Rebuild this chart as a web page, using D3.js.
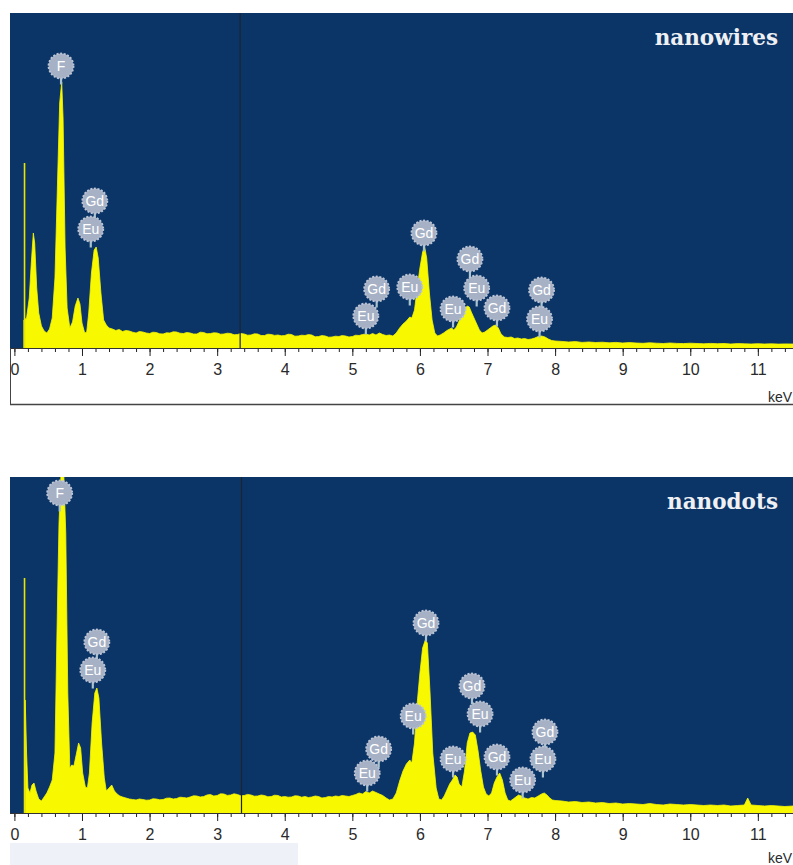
<!DOCTYPE html>
<html>
<head>
<meta charset="utf-8">
<script src="https://cdn.jsdelivr.net/npm/d3@7"></script>
<style>
  html, body { margin: 0; padding: 0; background: #ffffff; }
  svg { display: block; }
</style>
</head>
<body>
<svg id="chart" width="793" height="865"></svg>
<script>
// ---------------- DATA ----------------
const panelTitles = ["nanowires", "nanodots"];
const majorTicks = [0, 1, 2, 3, 4, 5, 6, 7, 8, 9, 10, 11];
const minorTicks = d3.range(0, 11.6, 0.2);
const axisUnit = "keV";

// zero-energy strobe line [keV, counts]
const nanowiresZero = [0.15, 1850];
const nanodotsZero = [0.15, 2350];
// cursor marker (keV)
const nanowiresCursor = 3.34;
const nanodotsCursor = 3.36;

// spectrum [keV, counts]
const nanowiresSpectrum = [
  [0.14,280],[0.18,300],[0.22,500],[0.25,850],[0.28,1150],[0.30,1050],[0.33,600],[0.36,350],
  [0.40,220],[0.44,170],[0.48,150],[0.52,190],[0.56,300],[0.60,700],[0.64,1700],[0.67,2450],
  [0.70,2660],[0.72,2300],[0.75,1000],[0.78,400],[0.82,200],[0.86,260],[0.90,420],[0.94,500],
  [0.97,440],[1.00,250],[1.04,150],[1.07,160],[1.10,350],[1.14,750],[1.18,980],[1.21,1010],
  [1.24,900],[1.28,550],[1.32,280],[1.36,230],[1.40,200],[1.45,190],[1.50,175],[1.55,185],
  [1.60,165],[1.65,175],[1.70,170],[1.75,158],[1.80,150],[1.85,165],[1.90,160],[1.95,150],
  [2.00,145],[2.05,158],[2.10,155],[2.15,142],[2.20,140],[2.25,152],[2.30,150],[2.35,162],
  [2.40,160],[2.45,148],[2.50,145],[2.55,155],[2.60,150],[2.65,140],[2.70,140],[2.75,158],
  [2.80,155],[2.85,142],[2.90,145],[2.95,152],[3.00,150],[3.05,138],[3.10,140],[3.15,148],
  [3.20,145],[3.25,132],[3.30,135],[3.35,145],[3.40,140],[3.45,128],[3.50,130],[3.55,142],
  [3.60,140],[3.65,125],[3.70,125],[3.75,138],[3.80,135],[3.85,126],[3.90,130],[3.95,122],
  [4.00,125],[4.05,138],[4.10,135],[4.15,118],[4.20,120],[4.25,128],[4.30,125],[4.35,134],
  [4.40,130],[4.45,112],[4.50,115],[4.55,124],[4.60,120],[4.65,108],[4.70,110],[4.75,118],
  [4.80,115],[4.85,124],[4.90,120],[4.95,110],[5.00,115],[5.05,128],[5.10,125],[5.15,135],
  [5.20,140],[5.25,130],[5.30,145],[5.35,130],[5.40,150],[5.45,135],[5.50,125],[5.55,130],
  [5.60,120],[5.65,150],[5.70,200],[5.75,240],[5.80,270],[5.85,310],[5.88,300],[5.92,380],
  [5.96,600],[6.00,800],[6.04,960],[6.07,1010],[6.10,900],[6.14,550],[6.18,280],[6.22,150],
  [6.26,120],[6.30,130],[6.35,150],[6.40,175],[6.44,190],[6.47,200],[6.50,180],[6.54,210],
  [6.58,270],[6.62,330],[6.66,390],[6.70,420],[6.73,410],[6.76,360],[6.80,300],[6.84,240],
  [6.88,180],[6.92,150],[6.96,160],[7.00,180],[7.04,200],[7.08,220],[7.12,230],[7.16,200],
  [7.20,140],[7.25,110],[7.30,105],[7.35,110],[7.40,95],[7.45,100],[7.50,90],[7.55,95],
  [7.60,85],[7.65,90],[7.70,100],[7.75,115],[7.80,120],[7.85,110],[7.90,90],[7.95,75],
  [8.00,70],[8.10,66],[8.20,60],[8.30,64],[8.40,56],[8.50,60],[8.60,55],[8.70,58],
  [8.80,52],[8.90,56],[9.00,50],[9.10,54],[9.20,50],[9.30,47],[9.40,52],[9.50,48],
  [9.60,45],[9.70,50],[9.80,46],[9.90,44],[10.00,48],[10.10,45],[10.20,42],[10.30,46],
  [10.40,43],[10.50,45],[10.60,40],[10.70,44],[10.80,42],[10.90,40],[11.00,43],[11.10,40],
  [11.20,42],[11.30,39],[11.40,41],[11.52,40]
];

const nanodotsSpectrum = [
  [0.16,1130],[0.18,600],[0.20,250],[0.23,200],[0.26,280],[0.29,300],[0.32,220],[0.36,140],
  [0.40,120],[0.44,160],[0.48,200],[0.52,260],[0.56,330],[0.60,600],[0.63,1800],[0.66,2900],
  [0.69,3400],[0.73,3400],[0.76,2800],[0.79,1200],[0.82,450],[0.85,480],[0.88,470],[0.92,600],
  [0.95,700],[0.98,650],[1.01,400],[1.05,260],[1.08,250],[1.11,400],[1.15,900],[1.19,1200],
  [1.22,1250],[1.25,1150],[1.29,700],[1.33,350],[1.36,220],[1.40,250],[1.44,280],[1.48,220],
  [1.52,190],[1.56,170],[1.60,160],[1.65,150],[1.70,140],[1.75,135],[1.80,130],[1.85,140],
  [1.90,135],[1.95,128],[2.00,130],[2.05,142],[2.10,140],[2.15,132],[2.20,135],[2.25,148],
  [2.30,150],[2.35,140],[2.40,145],[2.45,158],[2.50,155],[2.55,150],[2.60,160],[2.65,172],
  [2.70,170],[2.75,160],[2.80,165],[2.85,180],[2.90,185],[2.95,170],[3.00,175],[3.05,192],
  [3.10,190],[3.15,176],[3.20,180],[3.25,192],[3.30,185],[3.35,172],[3.40,175],[3.45,186],
  [3.50,180],[3.55,168],[3.60,170],[3.65,180],[3.70,175],[3.75,162],[3.80,165],[3.85,178],
  [3.90,175],[3.95,160],[4.00,165],[4.05,158],[4.10,160],[4.15,172],[4.20,170],[4.25,158],
  [4.30,165],[4.35,155],[4.40,160],[4.45,170],[4.50,165],[4.55,150],[4.60,155],[4.65,165],
  [4.70,160],[4.75,170],[4.80,165],[4.85,175],[4.90,170],[4.95,165],[5.00,175],[5.05,185],
  [5.10,200],[5.15,190],[5.20,215],[5.25,200],[5.30,220],[5.35,205],[5.40,190],[5.45,175],
  [5.50,150],[5.55,130],[5.60,140],[5.65,200],[5.70,320],[5.75,420],[5.80,490],[5.85,530],
  [5.88,500],[5.92,700],[5.96,1100],[6.00,1400],[6.04,1650],[6.08,1730],[6.11,1700],[6.15,1200],
  [6.19,600],[6.24,250],[6.28,140],[6.32,130],[6.36,170],[6.40,230],[6.44,290],[6.48,330],
  [6.52,380],[6.55,360],[6.58,290],[6.62,260],[6.66,420],[6.70,700],[6.74,800],[6.78,810],
  [6.82,780],[6.86,620],[6.90,420],[6.94,260],[6.98,190],[7.02,170],[7.06,200],[7.10,300],
  [7.14,360],[7.18,400],[7.22,330],[7.26,200],[7.30,130],[7.34,120],[7.38,140],[7.42,160],
  [7.46,180],[7.50,170],[7.55,150],[7.60,140],[7.65,155],[7.70,150],[7.75,170],[7.80,190],
  [7.84,200],[7.88,180],[7.92,150],[7.96,130],[8.00,125],[8.10,120],[8.20,110],[8.30,115],
  [8.40,105],[8.50,110],[8.60,100],[8.70,105],[8.80,95],[8.90,100],[9.00,90],[9.10,95],
  [9.20,90],[9.30,85],[9.40,95],[9.50,85],[9.60,80],[9.70,90],[9.80,85],[9.90,80],
  [10.00,85],[10.10,80],[10.20,75],[10.30,80],[10.40,75],[10.50,80],[10.60,70],[10.70,75],
  [10.80,80],[10.85,150],[10.90,80],[11.00,75],[11.10,70],[11.20,75],[11.30,70],[11.40,65],
  [11.52,70]
];

// element badges [element, keV, counts at badge centre]
const nanowiresLabels = [
  ["F",0.69,2820],["Gd",1.19,1470],["Eu",1.13,1190],
  ["Eu",5.20,320],["Gd",5.36,590],["Eu",5.85,610],["Gd",6.06,1150],
  ["Eu",6.49,390],["Gd",6.74,890],["Eu",6.84,600],["Gd",7.14,400],
  ["Gd",7.80,580],["Eu",7.77,290]
];
const nanodotsLabels = [
  ["F",0.67,3200],["Gd",1.22,1710],["Eu",1.16,1430],
  ["Eu",5.22,400],["Gd",5.39,640],["Eu",5.90,970],["Gd",6.09,1900],
  ["Eu",6.49,540],["Gd",6.77,1270],["Eu",6.89,990],["Gd",7.14,560],
  ["Eu",7.52,330],["Gd",7.85,810],["Eu",7.82,540]
];

// ---------------- DRAWING ----------------
const svg = d3.select("#chart");
const W = 793;

const panels = [
  { title: panelTitles[0], spectrum: nanowiresSpectrum, zero: nanowiresZero, cursor: nanowiresCursor,
    labels: nanowiresLabels, top: 13, base: 348, yMax: 3350, axisBottom: 404, boxed: true },
  { title: panelTitles[1], spectrum: nanodotsSpectrum, zero: nanodotsZero, cursor: nanodotsCursor,
    labels: nanodotsLabels, top: 477, base: 813, yMax: 3360, axisBottom: 870, boxed: false }
];

const x = d3.scaleLinear().domain([0, 11.52]).range([14.4, W]);
const left = 10;

panels.forEach((p, i) => {
  const g = svg.append("g");
  const y = d3.scaleLinear().domain([0, p.yMax]).range([p.base, p.top]);

  const clipId = "clip" + i;
  svg.append("clipPath").attr("id", clipId)
    .append("rect").attr("x", left).attr("y", p.top).attr("width", W - left).attr("height", p.base - p.top);
  const axClip = "axclip" + i;
  svg.append("clipPath").attr("id", axClip)
    .append("rect").attr("x", left).attr("y", p.base).attr("width", W - left).attr("height", 100);

  // axis area background
  if (!p.boxed) {
    g.append("rect").attr("x", left).attr("y", 843).attr("width", 288).attr("height", 30)
      .attr("fill", "#eef1f7");
  }

  // plot background
  g.append("rect").attr("x", left).attr("y", p.top).attr("width", W - left).attr("height", p.base - p.top)
    .attr("fill", "#0b3467");

  const plot = g.append("g").attr("clip-path", `url(#${clipId})`);

  // spectrum
  const area = d3.area()
    .x(d => x(d[0]))
    .y0(p.base)
    .y1(d => y(d[1]))
    .curve(d3.curveLinear);
  plot.append("path").datum(p.spectrum).attr("d", area).attr("fill", "#f8f800")
    .attr("stroke", "#f8f800").attr("stroke-width", 0.8);

  // zero strobe line
  plot.append("line")
    .attr("x1", x(p.zero[0])).attr("x2", x(p.zero[0]))
    .attr("y1", p.base).attr("y2", y(p.zero[1]))
    .attr("stroke", "#e6e600").attr("stroke-width", 1.6);

  // cursor
  plot.append("line")
    .attr("x1", x(p.cursor)).attr("x2", x(p.cursor))
    .attr("y1", p.top).attr("y2", p.base)
    .attr("stroke", "#1c2430").attr("stroke-width", 1.2);

  // badges
  const r = 12.5;
  const badges = plot.selectAll("g.badge").data(p.labels).join("g")
    .attr("class", "badge")
    .attr("transform", d => `translate(${x(d[1])},${y(d[2])})`);
  badges.append("line")
    .attr("x1", 0).attr("x2", 0).attr("y1", r - 1).attr("y2", r + 6)
    .attr("stroke", "#a9c4cf").attr("stroke-width", 2.2);
  badges.append("circle").attr("r", r)
    .attr("fill", "#a6b1c5")
    .attr("stroke", "#bcc5d5").attr("stroke-width", 1.8)
    .attr("stroke-dasharray", "2,1.6");
  badges.append("text")
    .attr("text-anchor", "middle").attr("dy", "0.36em")
    .attr("font-family", "Liberation Sans, Arial, sans-serif")
    .attr("font-size", 14)
    .attr("fill", "#ffffff")
    .text(d => d[0]);

  // title
  g.append("text")
    .attr("x", 778).attr("y", p.top + 32)
    .attr("text-anchor", "end")
    .attr("font-family", "DejaVu Serif, serif")
    .attr("font-weight", "bold")
    .attr("font-size", 21.5)
    .attr("fill", "#eef0f4")
    .text(p.title);

  // axes
  const axG = g.append("g").attr("clip-path", `url(#${axClip})`);
  axG.append("g")
    .attr("transform", `translate(0,${p.base})`)
    .call(d3.axisBottom(x).tickValues(minorTicks).tickSize(4).tickFormat(""))
    .call(a => a.select(".domain").remove())
    .call(a => a.selectAll("line").attr("stroke", "#222"));
  axG.append("g")
    .attr("transform", `translate(0,${p.base})`)
    .call(d3.axisBottom(x).tickValues(majorTicks).tickSize(8).tickPadding(8).tickFormat(d3.format("d")))
    .call(a => a.select(".domain").remove())
    .call(a => a.selectAll("line").attr("stroke", "#222"))
    .call(a => a.selectAll("text")
      .attr("font-family", "Liberation Sans, Arial, sans-serif")
      .attr("font-size", 16).attr("fill", "#2a2a2a"));
  axG.append("line").attr("x1", left).attr("x2", W).attr("y1", p.base + 0.5).attr("y2", p.base + 0.5)
    .attr("stroke", "#333").attr("stroke-width", 1);

  g.append("text")
    .attr("x", 792).attr("y", p.boxed ? 402 : 863)
    .attr("text-anchor", "end")
    .attr("font-family", "Liberation Sans, Arial, sans-serif")
    .attr("font-size", 14).attr("fill", "#2a2a2a")
    .text(axisUnit);

  if (p.boxed) {
    g.append("line").attr("x1", left + 0.5).attr("x2", left + 0.5).attr("y1", p.base).attr("y2", p.axisBottom)
      .attr("stroke", "#444").attr("stroke-width", 1);
    g.append("line").attr("x1", left).attr("x2", W).attr("y1", p.axisBottom + 0.5).attr("y2", p.axisBottom + 0.5)
      .attr("stroke", "#444").attr("stroke-width", 1.5);
  }
});
</script>
</body>
</html>
